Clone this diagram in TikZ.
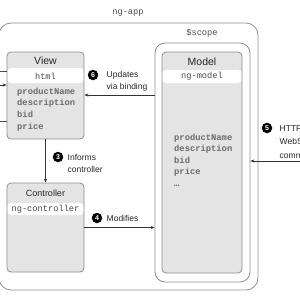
\documentclass[tikz,border=0pt]{standalone}
\usepackage{fontspec}
\setmainfont{Liberation Sans}
\setmonofont{Liberation Mono}
\usetikzlibrary{arrows.meta, positioning, calc}

\definecolor{boxgray}{HTML}{E4E4E4}
\definecolor{linegray}{HTML}{8E8E8E}
\definecolor{textgray}{HTML}{4A4A4A}

\tikzset{
  frame/.style={draw=linegray, rounded corners=#1, line width=0.8pt},
  part/.style 2 args={draw=linegray, fill=boxgray, rounded corners=4pt, line width=0.8pt,
    minimum width=77pt,
    path picture={\fill[white] ([yshift=-#1]path picture bounding box.north west)
      rectangle ([yshift=-#2]path picture bounding box.north east);}},
  arr/.style={-{Stealth[length=4pt,width=3.2pt]}, line width=0.6pt, black!80},
  num/.style={circle, fill=black, text=white, inner sep=0pt, minimum size=10.5pt,
    font=\fontsize{7}{7}\selectfont\bfseries},
  note/.style={anchor=west, align=left, inner sep=1pt, text=black!85,
    font=\fontsize{8.5}{12}\selectfont},
  title/.style={font=\fontsize{10.5}{12}\selectfont, text=black!85},
  code/.style={font=\ttfamily\fontsize{8.7}{11}\selectfont, text=textgray},
  field/.style={font=\ttfamily\bfseries\fontsize{8.8}{11}\selectfont, text=black!58,
    anchor=base west, inner sep=0pt}
}

\begin{document}
\begin{tikzpicture}[x=1pt,y=-1pt]
  \useasboundingbox (0,0) rectangle (300,300);
  \clip (0,0) rectangle (300,300);

  % outer frames: ng-app and $scope
  \node[frame=12pt, minimum width=259pt, minimum height=267pt] (app) at (128.5,156.5) {};
  \node[code] (applabel) at (128,13) {ng-app};
  \node[frame=10pt, minimum width=95pt, minimum height=239pt] (scope) at (202.5,162.5) {};
  \node[code] (scopelabel) at (202,33) {\$scope};

  % view, controller, model
  \node[part={16pt}{31pt}, minimum height=87pt] (view) at (45.5,95.5) {};
  \node[part={20pt}{32pt}, minimum height=89pt] (ctrl) at (45.5,227.5) {};
  \node[part={18pt}{31pt}, minimum width=80pt, minimum height=221pt] (model) at (202,162.5) {};

  \node[title] (viewtitle) at (45.5,61) {View};
  \node[code] (viewhtml) at (45.5,76) {html};
  \foreach \f [count=\i] in {productName,description,bid,price}
    \node[field] (vf\i) at (17,82.3+11.7*\i) {\f};

  \node[title, font=\fontsize{9}{11}\selectfont] (ctrltitle) at (45.5,193) {Controller};
  \node[code] (ctrlcode) at (45.5,209) {ng-controller};

  \node[title] (modeltitle) at (202,62) {Model};
  \node[code] (modelcode) at (202,76) {ng-model};
  \foreach \f [count=\i] in {productName,description,bid,price,\ldots}
    \node[field] (mf\i) at (174,128.5+11.5*\i) {\f};

  % connectors
  \coordinate (bindy) at (0,95);
  \draw[arr] (scope.west |- bindy) -- (view.east |- bindy);
  \draw[arr] (view.south) -- (ctrl.north);
  \draw[arr] (ctrl.east) -- (ctrl.east -| scope.west);
  \coordinate (remote) at (310,161);
  \draw[arr] (remote) -- (remote -| scope.east);

  % lines coming in from the left
  \coordinate (outside) at (-5,0);
  \draw[black!70, line width=0.6pt] (outside |- 0,71) -- (view.west |- 0,71);
  \draw[black!70, line width=0.6pt] (outside |- 0,121) -- (view.west |- 0,121);
  \draw[arr] (outside |- 0,85) -- (view.west |- 0,85);

  % step labels
  \node[num] (n6) at (93,75) {6};
  \node[note] (t6) at (105.5,81) {Updates\\via binding};
  \node[num] (n3) at (58,157) {3};
  \node[note] (t3) at (66.5,163) {Informs\\controller};
  \node[num] (n4) at (97,218) {4};
  \node[note] (t4) at (105.5,218) {Modifies};
  \node[num] (n5) at (267,128) {5};
  \node[note, font=\fontsize{8.5}{13.5}\selectfont] (t5) at (278.5,141.5) {HTTP/\\WebSocket\\communication};
\end{tikzpicture}
\end{document}
